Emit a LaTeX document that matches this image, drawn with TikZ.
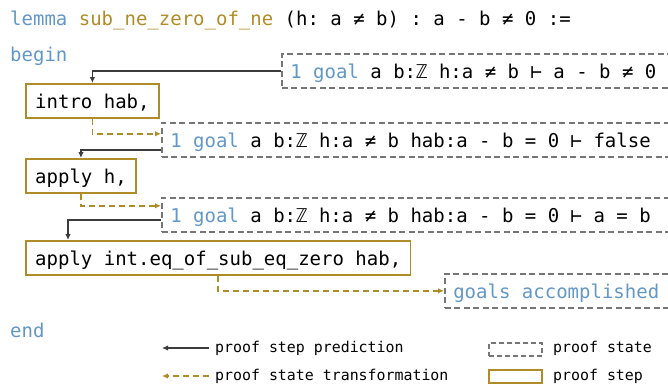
\documentclass[tikz,border=0pt]{standalone}
\usepackage{fontspec}
\setmainfont{DejaVu Sans Mono}[WordSpace={1,0,0}]
\frenchspacing
\usetikzlibrary{arrows.meta}

\definecolor{kwblue}{RGB}{98,151,199}
\definecolor{leangold}{RGB}{176,140,40}
\definecolor{stategray}{RGB}{118,118,118}
\definecolor{arrowgray}{RGB}{60,60,60}

\newcommand{\kw}[1]{\textcolor{kwblue}{#1}}

\begin{document}
\begin{tikzpicture}[x=1pt,y=-1pt,
	every node/.style={font=\fontsize{19pt}{23pt}\selectfont},
	stepbox/.style={draw=leangold,line width=1.9pt,fill=white,anchor=north west,
		inner xsep=9.25pt,minimum height=34pt,text height=15pt,text depth=0pt},
	statebox/.style={draw=stategray,dash pattern=on 6pt off 3.5pt,line width=1.6pt,
		anchor=north west,inner xsep=8.5pt,minimum height=34pt,
		text height=15pt,text depth=0pt},
	predict/.style={arrowgray,line width=1.6pt,-{Latex[length=6pt,width=5.5pt]}},
	transform/.style={leangold,line width=1.6pt,dash pattern=on 6pt off 4pt,
		-{Latex[length=6pt,width=5.5pt]}},
	legend/.style={font=\fontsize{14.9pt}{18pt}\selectfont,anchor=west,inner sep=0pt}]
	\useasboundingbox (0,0) rectangle (668,384);
	\clip (0,0) rectangle (668,384);

	% source lines
	\node[anchor=base west,inner sep=0pt] (head) at (10,25)
		{\kw{lemma} \textcolor{leangold}{sub\_ne\_zero\_of\_ne} (h: a ≠ b) : a - b ≠ 0 :=};
	\node[anchor=base west,inner sep=0pt] (begin) at (10,61) {\kw{begin}};
	\node[anchor=base west,inner sep=0pt] (end) at (10,337) {\kw{end}};

	% proof states (open on the right)
	\node[statebox] (s1) at (281,53)
		{\makebox[385pt][l]{\kw{1 goal} a b:ℤ h:a ≠ b ⊢ a - b ≠ 0}};
	\node[statebox] (s2) at (161,122)
		{\makebox[505pt][l]{\kw{1 goal} a b:ℤ h:a ≠ b hab:a - b = 0 ⊢ false}};
	\node[statebox] (s3) at (161,197)
		{\makebox[505pt][l]{\kw{1 goal} a b:ℤ h:a ≠ b hab:a - b = 0 ⊢ a = b}};
	\node[statebox] (s4) at (444,273) {\makebox[225pt][l]{\kw{goals accomplished}}};

	% proof steps
	\node[stepbox] (intro) at (25,83) {intro hab,};
	\node[stepbox] (happly) at (25,158) {apply h,};
	\node[stepbox] (eqapp) at (25,240) {apply int.eq\_of\_sub\_eq\_zero hab,};

	\draw[predict] (s1.west) -| (intro.north);
	\draw[transform] (intro.south) |- ([yshift=6pt]s2.west);
	\draw[predict] ([yshift=-10pt]s2.west) -| (happly.north);
	\draw[transform] (happly.south) |- ([yshift=9pt]s3.west);
	\draw[predict] ([yshift=-5pt]s3.west) -| ([xshift=43pt]eqapp.north west);
	\draw[transform] (eqapp.south) |- (s4.west);

	% legend
	\coordinate (predtip) at (162,348);
	\coordinate (transtip) at (162,376);
	\node[legend] (lpred) at (215,348) {proof step prediction};
	\node[legend] (ltrans) at (215,376) {proof state transformation};
	\draw[predict] ([xshift=-6pt]lpred.west) -- (predtip);
	\draw[transform] ([xshift=-6pt]ltrans.west) -- (transtip);
	\node[statebox,anchor=center,minimum width=53pt,minimum height=13pt,inner sep=0pt,
		text height=0pt,dash pattern=on 5pt off 3pt] (lstate) at (515.5,349.5) {};
	\node[legend] (lstatetxt) at (553,348) {proof state};
	\node[stepbox,anchor=center,minimum width=53pt,minimum height=13pt,inner sep=0pt,
		text height=0pt] (lstep) at (515.5,376.5) {};
	\node[legend] (lsteptxt) at (553,376) {proof step};
\end{tikzpicture}
\end{document}
